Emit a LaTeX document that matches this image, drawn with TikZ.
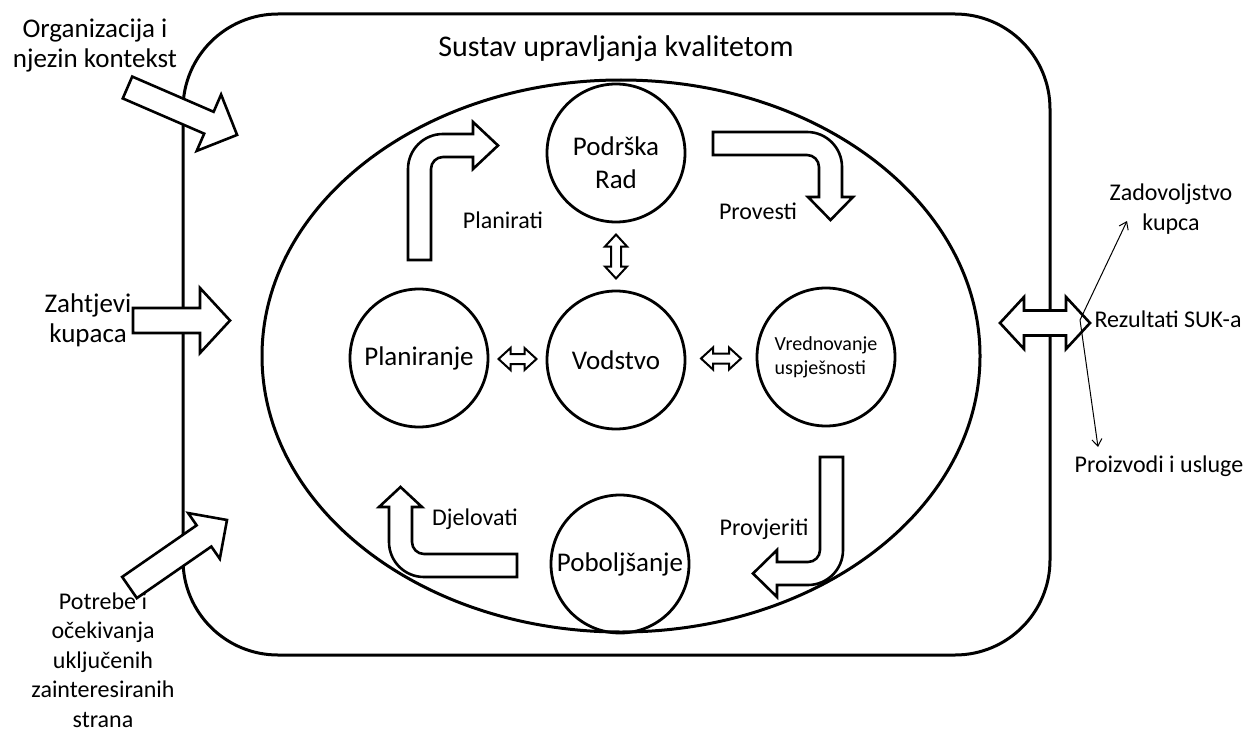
\documentclass[tikz,border=0pt]{standalone}
\usepackage{fontspec}
\setmainfont{Carlito}
\usetikzlibrary{arrows.meta,calc}
\tikzset{
  krug/.style={circle,draw,line width=2.8pt,minimum size=138pt,inner sep=0pt,align=center,font=\fontsize{27}{33}\selectfont},
  blok/.style={draw,fill=white,line width=2.6pt,line join=miter},
  veliki/.style={align=center,font=\fontsize{27}{30}\selectfont},
  srednji/.style={align=center,font=\fontsize{24}{30}\selectfont},
  tanka/.style={line width=1pt,-{Straight Barb[length=7pt,width=10pt]}}
}
\begin{document}
\begin{tikzpicture}[x=1pt,y=-1pt,line join=round]
\useasboundingbox (0,0) rectangle (1257,733);

% sustav i okvir
\draw[line width=3pt,rounded corners=95pt] (183,14) rectangle (1050,655);
\node[anchor=base,font=\fontsize{30}{36}\selectfont] (naslov) at (616,57) {Sustav upravljanja kvalitetom};
\draw[line width=3pt] (621,356) ellipse [x radius=359pt,y radius=276pt];

% ulazi
\node[veliki] (organizacija) at (95,46) {Organizacija i\\njezin kontekst};
\node[veliki] (zahtjevi) at (88,320) {Zahtjevi\\kupaca};
\node[align=center,font=\fontsize{24}{29.5}\selectfont] (potrebe) at (103,660) {Potrebe i\\očekivanja\\uključenih\\zainteresiranih\\strana};
\begin{scope}[shift={(127.5,87.5)},rotate=-23.4]
  \draw[blok] (0,-11.9) -- (88.7,-11.9) -- (88.7,-30.7) -- (119.4,0) -- (88.7,30.7) -- (88.7,11.9) -- (0,11.9) -- cycle;
\end{scope}
\draw[blok] (133,308) -- (200,308) -- (200,288) -- (230,320.5) -- (200,353) -- (200,333) -- (133,333) -- cycle;
\begin{scope}[shift={(129.5,587.5)},rotate=34.7]
  \draw[blok] (0,-12.9) -- (90.6,-12.9) -- (90.6,-27.8) -- (118.6,0) -- (90.6,27.8) -- (90.6,12.9) -- (0,12.9) -- cycle;
\end{scope}

% krugovi
\node[krug] (podrska) at (616,153) {};
\node[align=center,font=\fontsize{27}{33}\selectfont] (podrskatekst) at ([yshift=-10pt]podrska.center) {Podrška\\Rad};
\node[krug] (planiranje) at (419,358) {Planiranje};
\node[krug] (vodstvo) at (616,360) {Vodstvo};
\node[krug,align=left,font=\fontsize{20}{24}\selectfont] (vrednovanje) at (826,357) {Vrednovanje\\uspješnosti};
\node[krug] (poboljsanje) at (620,564) {Poboljšanje};

% dvostruke strelice oko vodstva
\begin{scope}[shift={($(podrska.south)!0.5!(vodstvo.north)$)},rotate=90]
  \draw[blok,line width=2pt] (-22,0) -- (-10,-11) -- (-10,-5) -- (10,-5) -- (10,-11) -- (22,0) -- (10,11) -- (10,5) -- (-10,5) -- (-10,11) -- cycle;
\end{scope}
\begin{scope}[shift={($(planiranje.east)!0.5!(vodstvo.west)$)}]
  \draw[blok,line width=2pt] (-19,0) -- (-7,-11) -- (-7,-5) -- (7,-5) -- (7,-11) -- (19,0) -- (7,11) -- (7,5) -- (-7,5) -- (-7,11) -- cycle;
\end{scope}
\begin{scope}[shift={($(vodstvo.east)!0.5!(vrednovanje.west)$)}]
  \draw[blok,line width=2pt] (-20,0) -- (-8,-11) -- (-8,-5) -- (8,-5) -- (8,-11) -- (20,0) -- (8,11) -- (8,5) -- (-8,5) -- (-8,11) -- cycle;
\end{scope}

% ciklus
\draw[blok] (408,260) -- (408,169) arc[start angle=180,end angle=90,radius=35pt] -- (473,134) -- (473,122) -- (498,145.5) -- (473,169) -- (473,157) -- (443,157) arc[start angle=90,end angle=180,radius=12pt] -- (431,260) -- cycle;
\draw[blok] (713,132) -- (807,132) arc[start angle=90,end angle=0,radius=35pt] -- (842,197) -- (853,197) -- (830.5,220) -- (808,197) -- (819,197) -- (819,167) arc[start angle=0,end angle=90,radius=12pt] -- (713,155) -- cycle;
\draw[blok] (820,457) -- (843,457) -- (843,550) arc[start angle=0,end angle=-90,radius=35pt] -- (777,585) -- (777,597) -- (753,573.5) -- (777,550) -- (777,562) -- (808,562) arc[start angle=-90,end angle=0,radius=12pt] -- cycle;
\draw[blok] (517,554) -- (517,577) -- (424,577) arc[start angle=-90,end angle=-180,radius=35pt] -- (389,507) -- (379,507) -- (400.5,487) -- (422,507) -- (412,507) -- (412,542) arc[start angle=180,end angle=270,radius=12pt] -- cycle;
\node[srednji,anchor=base] (planirati) at (503,228) {Planirati};
\node[srednji,anchor=base] (provesti) at (758,219) {Provesti};
\node[srednji,anchor=base] (provjeriti) at (764,535) {Provjeriti};
\node[srednji,anchor=base] (djelovati) at (475,525) {Djelovati};

% izlazi
\draw[blok] (1000,323) -- (1024,297) -- (1024,310.5) -- (1066,310.5) -- (1066,297) -- (1090,323) -- (1066,349) -- (1066,335.5) -- (1024,335.5) -- (1024,349) -- cycle;
\node[srednji] (zadovoljstvo) at (1171,209) {Zadovoljstvo\\kupca};
\node[srednji,anchor=base west] (rezultati) at (1091,327) {Rezultati SUK-a};
\node[srednji,anchor=base] (proizvodi) at (1159,472) {Proizvodi i usluge};
\coordinate (suk) at (1080,320);
\coordinate (kupac) at (1127,221);
\coordinate (usluge) at (1098,447);
\draw[tanka] (suk) -- (kupac);
\draw[tanka] (suk) -- (usluge);
\end{tikzpicture}
\end{document}
